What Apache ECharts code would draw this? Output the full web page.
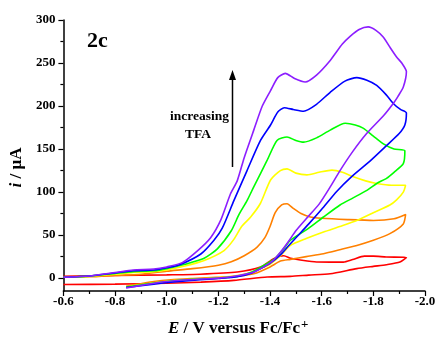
<!DOCTYPE html>
<html>
<head>
<meta charset="utf-8">
<script src="https://cdn.jsdelivr.net/npm/echarts@6/dist/echarts.min.js"></script>
<style>
html,body{margin:0;padding:0;background:#fff;}
#chart{width:439px;height:344px;}
</style>
</head>
<body>
<div id="chart"></div>
<script>
// ---- Data (E in V vs Fc/Fc+, i in µA), each list traces the full CV loop ----
var xTicks = [-0.6, -0.8, -1.0, -1.2, -1.4, -1.6, -1.8, -2.0];
var yTicks = [0, 50, 100, 150, 200, 250, 300];
var yMinorTicks = [25, 75, 125, 175, 225, 275];

var redE = [-0.6,-0.8,-1.0,-1.13,-1.273,-1.363,-1.414,-1.453,-1.48,-1.517,-1.58,-1.684,-1.72,-1.765,-1.8,-1.85,-1.928,
            -1.903,-1.85,-1.8,-1.736,-1.633,-1.55,-1.479,-1.389,-1.26,-1.132,-1.0,-0.8,-0.6];
var redI = [2,3,3.8,4.5,7,12.8,22.6,26,23,21,18.7,18.6,21.5,25.5,25.5,24.5,24,
            18.6,15.5,13.6,11,5.1,3.5,2,1.2,-2.7,-4.7,-6,-7,-7.5];

var orangeE = [-0.6,-0.7,-0.8,-0.9,-1.0,-1.1,-1.2,-1.25,-1.3,-1.35,-1.38,-1.4,-1.42,-1.445,-1.466,-1.49,-1.52,-1.556,-1.6,-1.7,-1.8,-1.88,-1.925,
               -1.916,-1.864,-1.8,-1.736,-1.67,-1.607,-1.54,-1.479,-1.44,-1.4,-1.337,-1.28,-1.209,-1.1,-1.016,-0.95,-0.9,-0.843];
var orangeI = [1,1.5,3,4.5,8,11,15,19,26,36,47,60,76,85,86.5,81,75,71,69.5,68,67,69,74,
               63,51.7,44,38,33,28.4,25,21.8,19.8,13,5,2.5,1.2,-0.5,-2,-4,-6.5,-9.5];

var yellowE = [-0.6,-0.7,-0.8,-0.87,-0.95,-1.0,-1.07,-1.145,-1.222,-1.26,-1.29,-1.325,-1.363,-1.402,-1.44,-1.466,-1.5,-1.543,-1.59,-1.64,-1.68,-1.72,-1.77,-1.813,-1.87,-1.925,
               -1.916,-1.89,-1.864,-1.8,-1.736,-1.67,-1.607,-1.54,-1.479,-1.44,-1.4,-1.376,-1.32,-1.273,-1.2,-1.145,-1.016,-0.93,-0.843];
var yellowI = [1,2,4.5,6.5,7.5,9.5,14,20.5,32,45,60,71,87,114,125,127,122,120,123,125.5,123,118,113,110,108,108,
               100,91,85,76,67,60,53.6,46,38,26,16,12.8,6,3,0.5,-0.7,-3,-6.5,-10];

var greenE = [-0.6,-0.7,-0.8,-0.87,-0.95,-1.0,-1.07,-1.145,-1.196,-1.25,-1.28,-1.311,-1.337,-1.389,-1.427,-1.466,-1.5,-1.53,-1.58,-1.633,-1.691,-1.73,-1.762,-1.8,-1.839,-1.88,-1.922,
              -1.916,-1.88,-1.851,-1.813,-1.775,-1.72,-1.671,-1.607,-1.55,-1.479,-1.453,-1.42,-1.389,-1.33,-1.273,-1.2,-1.1,-1.0,-0.92,-0.843];
var greenI = [1,2.3,5.5,7.5,8.5,11,16,23,34,55,74,90,106,137,160,164,160,158,163,172,180,178,174,165,156,150,148,
              133,123,116,110,102,93,85,71,58,44,34,23,17,7,2,0,-1.5,-4,-7,-10.5];

var blueE = [-0.6,-0.7,-0.8,-0.87,-0.95,-1.0,-1.05,-1.132,-1.183,-1.215,-1.26,-1.311,-1.363,-1.402,-1.43,-1.455,-1.49,-1.53,-1.58,-1.633,-1.69,-1.736,-1.775,-1.813,-1.85,-1.877,-1.905,-1.928,
             -1.922,-1.9,-1.851,-1.787,-1.716,-1.659,-1.6,-1.55,-1.504,-1.47,-1.44,-1.4,-1.376,-1.33,-1.273,-1.2,-1.13,-1.016,-0.95,-0.843];
var blueI = [1,2.5,6,8.5,9.5,12,15.5,28,44,58,90,125,160,178,193,198,196,194,202,216,229,233,230,224,213,203,196,192,
             178,168,154,136,118,101,80,63,48,37,27,17,13,6,1.5,-0.5,-2,-4.7,-7,-11];

var purpleE = [-0.6,-0.7,-0.8,-0.87,-0.95,-1.0,-1.06,-1.12,-1.17,-1.21,-1.247,-1.273,-1.3,-1.337,-1.37,-1.402,-1.43,-1.459,-1.495,-1.536,-1.58,-1.633,-1.68,-1.71,-1.745,-1.78,-1.81,-1.839,-1.865,-1.89,-1.91,-1.928,
               -1.916,-1.895,-1.877,-1.84,-1.774,-1.72,-1.671,-1.633,-1.59,-1.54,-1.5,-1.47,-1.44,-1.41,-1.376,-1.337,-1.28,-1.2,-1.13,-1.05,-0.98,-0.92,-0.843];
var purpleI = [1,2.5,6.5,9.5,10.5,13,18,32,47,68,98,113,140,172,200,218,233,238,232,228,236,253,272,281,289,292,288,280,268,257,250,240,
               222,211,203,189,168,147,125,106,86,69,55,42,30,20,13,7,3,0,-1,-2.5,-4.6,-7.5,-11.5];

var seriesList = [
  {name:'red', E:redE, I:redI, color:'#ff0000'},
  {name:'orange', E:orangeE, I:orangeI, color:'#ff8000'},
  {name:'yellow', E:yellowE, I:yellowI, color:'#ffff00'},
  {name:'green', E:greenE, I:greenI, color:'#00ff00'},
  {name:'blue', E:blueE, I:blueI, color:'#0000ff'},
  {name:'purple', E:purpleE, I:purpleI, color:'#8c1eff'}
];

var FONT = '"Liberation Serif", "Times New Roman", serif';
var chart = echarts.init(document.getElementById('chart'), null, {renderer:'canvas'});

var option = {
  animation: false,
  backgroundColor: '#fff',
  grid: {left: 62, right: 14, top: 20, bottom: 53, containLabel: false},
  xAxis: {
    type: 'value', inverse: true, min: -2.0, max: -0.6, interval: 0.2,
    name: '{it|E} / V versus Fc/Fc{sup|+}',
    nameLocation: 'middle', nameGap: 27,
    nameTextStyle: {
      fontFamily: FONT, fontWeight: 'bold', fontSize: 17, color: '#000',
      padding: [0, 12, 0, 0],
      rich: {
        it: {fontFamily: FONT, fontWeight: 'bold', fontStyle: 'italic', fontSize: 17, color:'#000'},
        sup: {fontFamily: FONT, fontWeight: 'bold', fontSize: 13, color:'#000', verticalAlign: 'top', padding: [0,0,8,1]}
      }
    },
    axisLine: {onZero: false, lineStyle: {color: '#000', width: 1.5}},
    axisTick: {show: true, inside: false, length: 5, lineStyle: {color:'#000', width: 1.2}},
    minorTick: {show: true, splitNumber: 2, length: 3, lineStyle: {color:'#000', width: 1.2}},
    splitLine: {show: false}, minorSplitLine: {show: false},
    axisLabel: {
      margin: 4, fontFamily: FONT, fontWeight: 'bold', fontSize: 13, color: '#000',
      formatter: function(v){ return v.toFixed(1); },
      customValues: xTicks
    }
  },
  yAxis: [{
    type: 'value', min: -15, max: 300,
    name: '{it|i} / μA',
    nameLocation: 'middle', nameGap: 32,
    nameTextStyle: {
      fontFamily: FONT, fontWeight: 'bold', fontSize: 17, color: '#000',
      padding: [0, 24, 0, 0],
      rich: {
        it: {fontFamily: FONT, fontWeight: 'bold', fontStyle: 'italic', fontSize: 17, color:'#000'}
      }
    },
    axisLine: {show: true, onZero: false, lineStyle: {color: '#000', width: 1.5}},
    axisTick: {show: true, inside: false, length: 5, customValues: yTicks, lineStyle: {color:'#000', width: 1.2}},
    splitLine: {show: false},
    axisLabel: {margin: 8, fontFamily: FONT, fontWeight: 'bold', fontSize: 13, color:'#000', customValues: yTicks}
  }, {
    type: 'value', min: -15, max: 300, position: 'left',
    axisLine: {show: false, onZero: false},
    axisTick: {show: true, inside: false, length: 3, customValues: yMinorTicks, lineStyle: {color:'#000', width: 1.2}},
    axisLabel: {show: false},
    splitLine: {show: false}
  }],
  series: seriesList.map(function(s){
    return {
      name: s.name, type: 'line', xAxisIndex: 0, yAxisIndex: 0,
      data: s.E.map(function(e, k){ return [e, s.I[k]]; }),
      showSymbol: false, symbol: 'none', smooth: 0.22,
      lineStyle: {color: s.color, width: 1.6},
      itemStyle: {color: s.color},
      clip: false, silent: true
    };
  }),
  graphic: [
    {type: 'text', left: 87, top: 30, style: {text: '2c', font: 'bold 22px ' + FONT, fill: '#000'}},
    {type: 'text', left: 170, top: 110, style: {text: 'increasing', font: 'bold 13.5px ' + FONT, fill: '#000'}},
    {type: 'text', left: 185, top: 128, style: {text: 'TFA', font: 'bold 13.5px ' + FONT, fill: '#000'}},
    {type: 'line', shape: {x1: 232.5, y1: 167, x2: 232.5, y2: 78}, style: {stroke: '#000', lineWidth: 1.5}},
    {type: 'polygon', shape: {points: [[232.5, 70], [229, 80], [236, 80]]}, style: {fill: '#000'}}
  ]
};
chart.setOption(option);
</script>
</body>
</html>
